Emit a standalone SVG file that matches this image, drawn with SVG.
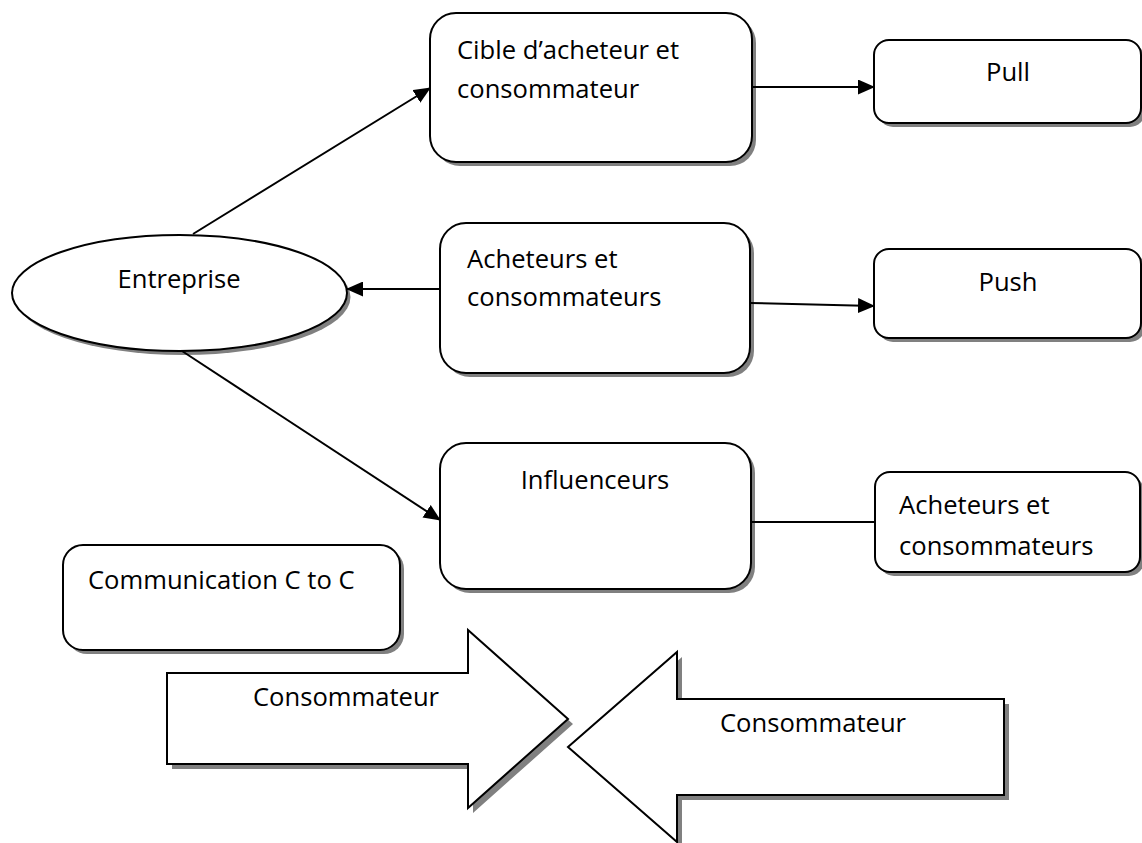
<svg xmlns="http://www.w3.org/2000/svg" width="1142" height="843" viewBox="0 0 1142 843">
  <style>
    .shadow { fill: #808080; stroke: none; }
    .shape { fill: #ffffff; stroke: #000000; stroke-width: 2; }
    .label { font-family: "Open Sans", "Liberation Sans", sans-serif; font-size: 25.6px; fill: #000000; }
    .mid { text-anchor: middle; }
    .link { stroke: #000000; stroke-width: 2; fill: none; }
    .arrowed { marker-end: url(#head); }
  </style>
  <defs>
    <marker id="head" markerUnits="userSpaceOnUse" markerWidth="17" markerHeight="15" refX="16" refY="7.5" orient="auto">
      <path d="M0,0 L17,7.5 L0,15 z" fill="#000000"/>
    </marker>
  </defs>
  <rect width="1142" height="843" fill="#ffffff"/>

  <g id="entreprise">
    <ellipse class="shadow" cx="183" cy="297" rx="167.5" ry="58"/>
    <ellipse class="shape" cx="179.5" cy="293" rx="167.5" ry="58"/>
    <text class="label mid" x="179" y="288">Entreprise</text>
  </g>

  <g id="cible">
    <rect class="shadow" x="434" y="17" width="322" height="149" rx="26"/>
    <rect class="shape" x="430" y="13" width="322" height="149" rx="26"/>
    <text class="label" x="457" y="59">Cible d’acheteur et</text>
    <text class="label" x="457" y="98">consommateur</text>
  </g>

  <g id="pull">
    <rect class="shadow" x="878" y="44" width="267" height="83" rx="15"/>
    <rect class="shape" x="874" y="40" width="267" height="83" rx="15"/>
    <text class="label mid" x="1008" y="81">Pull</text>
  </g>

  <g id="acheteurs">
    <rect class="shadow" x="444" y="227" width="310" height="150" rx="26"/>
    <rect class="shape" x="440" y="223" width="310" height="150" rx="26"/>
    <text class="label" x="467" y="268">Acheteurs et</text>
    <text class="label" x="467" y="306">consommateurs</text>
  </g>

  <g id="push">
    <rect class="shadow" x="878" y="253" width="267" height="89" rx="15"/>
    <rect class="shape" x="874" y="249" width="267" height="89" rx="15"/>
    <text class="label mid" x="1008" y="291">Push</text>
  </g>

  <g id="influenceurs">
    <rect class="shadow" x="444" y="447" width="311" height="146" rx="26"/>
    <rect class="shape" x="440" y="443" width="311" height="146" rx="26"/>
    <text class="label mid" x="595" y="489">Influenceurs</text>
  </g>

  <g id="acheteurs-2">
    <rect class="shadow" x="879" y="476" width="265" height="100" rx="15"/>
    <rect class="shape" x="875" y="472" width="265" height="100" rx="15"/>
    <text class="label" x="899" y="514">Acheteurs et</text>
    <text class="label" x="899" y="555">consommateurs</text>
  </g>

  <g id="communication">
    <rect class="shadow" x="67" y="549" width="337" height="105" rx="20"/>
    <rect class="shape" x="63" y="545" width="337" height="105" rx="20"/>
    <text class="label" x="88" y="589">Communication C to C</text>
  </g>

  <g id="consommateur-droite">
    <path class="shadow" transform="translate(5,5)" d="M167,673 L468,673 L468,630 L568,719 L468,808 L468,764 L167,764 Z"/>
    <path class="shape" d="M167,673 L468,673 L468,630 L568,719 L468,808 L468,764 L167,764 Z"/>
    <text class="label" x="253" y="706">Consommateur</text>
  </g>

  <g id="consommateur-gauche">
    <path class="shadow" transform="translate(5,5)" d="M1004,699 L677,699 L677,652 L568,747 L677,842 L677,795 L1004,795 Z"/>
    <path class="shape" d="M1004,699 L677,699 L677,652 L568,747 L677,842 L677,795 L1004,795 Z"/>
    <text class="label" x="720" y="732">Consommateur</text>
  </g>

  <!-- connectors, drawn over the node shadows -->
  <g id="connectors">
    <line class="link arrowed" x1="193" y1="234" x2="430" y2="88"/>
    <line class="link arrowed" x1="182" y1="351" x2="440" y2="520"/>
    <line class="link arrowed" x1="440" y1="289" x2="347" y2="289"/>
    <line class="link arrowed" x1="752" y1="87" x2="874" y2="87"/>
    <line class="link arrowed" x1="750" y1="303" x2="874" y2="306"/>
    <line class="link" x1="751" y1="522" x2="875" y2="522"/>
  </g>
</svg>
